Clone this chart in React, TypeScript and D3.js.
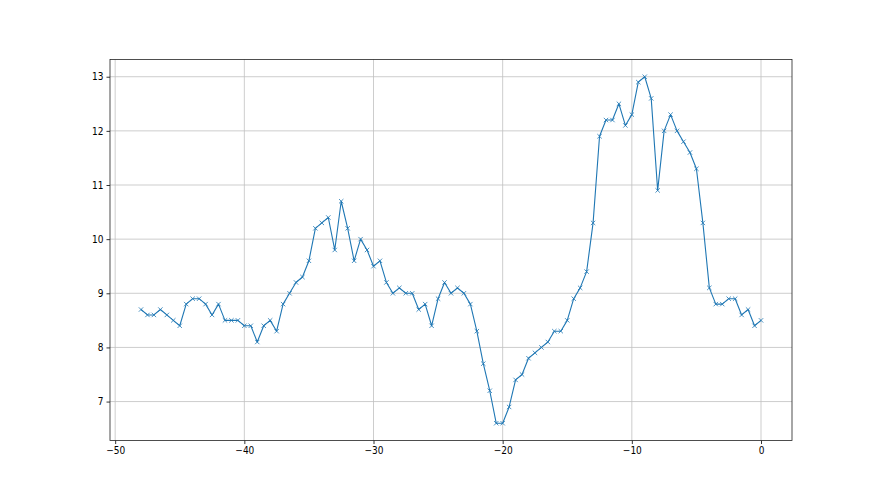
import React, { useRef, useEffect } from 'react'
import * as d3 from 'd3'

// x positions (step of half a unit) and the measured values
const xValues: number[] = [
  -48, -47.5, -47, -46.5, -46, -45.5, -45, -44.5, -44, -43.5,
  -43, -42.5, -42, -41.5, -41, -40.5, -40, -39.5, -39, -38.5,
  -38, -37.5, -37, -36.5, -36, -35.5, -35, -34.5, -34, -33.5,
  -33, -32.5, -32, -31.5, -31, -30.5, -30, -29.5, -29, -28.5,
  -28, -27.5, -27, -26.5, -26, -25.5, -25, -24.5, -24, -23.5,
  -23, -22.5, -22, -21.5, -21, -20.5, -20, -19.5, -19, -18.5,
  -18, -17.5, -17, -16.5, -16, -15.5, -15, -14.5, -14, -13.5,
  -13, -12.5, -12, -11.5, -11, -10.5, -10, -9.5, -9, -8.5,
  -8, -7.5, -7, -6.5, -6, -5.5, -5, -4.5, -4, -3.5,
  -3, -2.5, -2, -1.5, -1, -0.5, 0,
]

const yValues: number[] = [
  8.7, 8.6, 8.6, 8.7, 8.6, 8.5, 8.4, 8.8, 8.9, 8.9,
  8.8, 8.6, 8.8, 8.5, 8.5, 8.5, 8.4, 8.4, 8.1, 8.4,
  8.5, 8.3, 8.8, 9.0, 9.2, 9.3, 9.6, 10.2, 10.3, 10.4,
  9.8, 10.7, 10.2, 9.6, 10.0, 9.8, 9.5, 9.6, 9.2, 9.0,
  9.1, 9.0, 9.0, 8.7, 8.8, 8.4, 8.9, 9.2, 9.0, 9.1,
  9.0, 8.8, 8.3, 7.7, 7.2, 6.6, 6.6, 6.9, 7.4, 7.5,
  7.8, 7.9, 8.0, 8.1, 8.3, 8.3, 8.5, 8.9, 9.1, 9.4,
  10.3, 11.9, 12.2, 12.2, 12.5, 12.1, 12.3, 12.9, 13.0, 12.6,
  10.9, 12.0, 12.3, 12.0, 11.8, 11.6, 11.3, 10.3, 9.1, 8.8,
  8.8, 8.9, 8.9, 8.6, 8.7, 8.4, 8.5,
]

const xTicks: number[] = [-50, -40, -30, -20, -10, 0]
const yTicks: number[] = [7, 8, 9, 10, 11, 12, 13]

const App = () => {
  const svgRef = useRef<SVGSVGElement>(null)

  useEffect(() => {
    const width = 880
    const height = 495
    const marginLeft = 110
    const marginRight = 88
    const marginTop = 59.4
    const marginBottom = 54.45
    const color = '#1f77b4'
    const font = "'Liberation Sans Narrow', 'DejaVu Sans Condensed', sans-serif"

    const data = xValues.map((x, i) => ({ x, y: yValues[i] }))

    // matplotlib style 5% padding round the data
    const [x0, x1] = d3.extent(xValues) as [number, number]
    const [y0, y1] = d3.extent(yValues) as [number, number]
    const px = (x1 - x0) * 0.05
    const py = (y1 - y0) * 0.05

    const x = d3.scaleLinear()
      .domain([x0 - px, x1 + px])
      .range([marginLeft, width - marginRight])

    const y = d3.scaleLinear()
      .domain([y0 - py, y1 + py])
      .range([height - marginBottom, marginTop])

    const svg = d3.select(svgRef.current)
    svg.selectAll('*').remove()
    svg.attr('viewBox', [0, 0, width, height])
      .attr('width', width)
      .attr('height', height)

    svg.append('rect')
      .attr('width', width).attr('height', height).attr('fill', '#fff')

    // grid
    const grid = svg.append('g').attr('stroke', '#c0c0c0').attr('stroke-width', 0.8)
    grid.selectAll('line.gx')
      .data(xTicks)
      .join('line')
        .attr('class', 'gx')
        .attr('x1', d => x(d)).attr('x2', d => x(d))
        .attr('y1', marginTop).attr('y2', height - marginBottom)
    grid.selectAll('line.gy')
      .data(yTicks)
      .join('line')
        .attr('class', 'gy')
        .attr('x1', marginLeft).attr('x2', width - marginRight)
        .attr('y1', d => y(d)).attr('y2', d => y(d))

    // the line
    const line = d3.line<{ x: number, y: number }>()
      .x(d => x(d.x))
      .y(d => y(d.y))

    svg.append('path')
      .datum(data)
      .attr('fill', 'none')
      .attr('stroke', color)
      .attr('stroke-width', 1.1)
      .attr('stroke-linejoin', 'round')
      .attr('d', line)

    // x markers
    svg.append('g')
        .attr('stroke', color)
        .attr('stroke-width', 0.8)
      .selectAll('path')
      .data(data)
      .join('path')
        .attr('transform', d => `translate(${x(d.x)},${y(d.y)})`)
        .attr('d', 'M-2.2,-2.2L2.2,2.2M-2.2,2.2L2.2,-2.2')

    // axes
    const fmt = (d: d3.NumberValue) => String(d).replace('-', '\u2212')

    svg.append('g')
        .attr('transform', `translate(0,${height - marginBottom})`)
        .call(d3.axisBottom(x).tickValues(xTicks).tickFormat(fmt).tickSizeInner(3.5).tickSizeOuter(0).tickPadding(3))
        .call(g => g.select('.domain').remove())
        .call(g => g.selectAll('line').attr('stroke', '#000').attr('stroke-width', 0.8))
        .call(g => g.selectAll('text').attr('fill', '#000').attr('font-size', 10).attr('font-family', font))

    svg.append('g')
        .attr('transform', `translate(${marginLeft},0)`)
        .call(d3.axisLeft(y).tickValues(yTicks).tickFormat(fmt).tickSizeInner(3.5).tickSizeOuter(0).tickPadding(3))
        .call(g => g.select('.domain').remove())
        .call(g => g.selectAll('line').attr('stroke', '#000').attr('stroke-width', 0.8))
        .call(g => g.selectAll('text').attr('fill', '#000').attr('font-size', 10).attr('font-family', font))

    // frame
    svg.append('rect')
      .attr('x', marginLeft)
      .attr('y', marginTop)
      .attr('width', width - marginLeft - marginRight)
      .attr('height', height - marginTop - marginBottom)
      .attr('fill', 'none')
      .attr('stroke', '#222')
      .attr('stroke-width', 0.8)
  }, [])

  return (
    <svg ref={svgRef} style={{ position: 'absolute', left: 0, top: 0 }} />
  )
}

export default App
